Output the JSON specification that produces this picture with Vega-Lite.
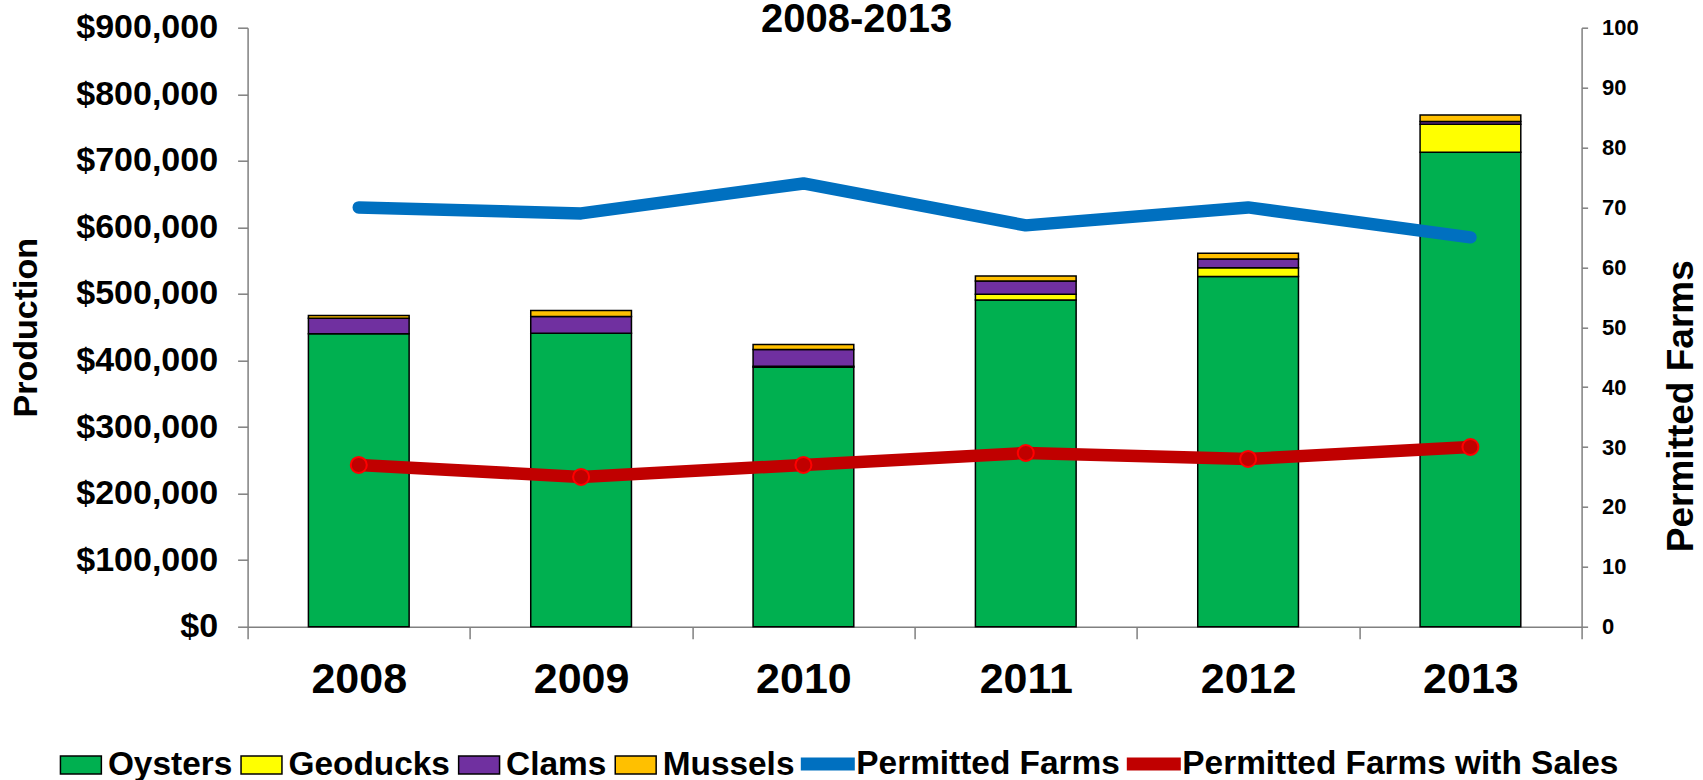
{
  "$schema": "https://vega.github.io/schema/vega-lite/v6.json",
  "autosize": {"type": "none"},
  "width": 1334,
  "height": 599,
  "padding": {"left": 247.6, "top": 27.7, "right": 121.4, "bottom": 153.3},
  "background": "white",
  "config": {
    "font": "Liberation Sans",
    "view": {"stroke": null},
    "axis": {"grid": false, "labelColor": "#000000", "titleColor": "#000000", "labelFont": "Liberation Sans", "titleFont": "Liberation Sans", "labelFontWeight": "bold", "titleFontWeight": "bold", "domainColor": "#808080", "tickColor": "#808080", "domainWidth": 1.5, "tickWidth": 1.5},
    "legend": {"labelFont": "Liberation Sans", "labelFontWeight": "bold", "labelFontSize": 33.4, "labelColor": "#000000", "labelLimit": 1000, "padding": 0, "title": null}
  },
  "title": {"text": "2008-2013", "anchor": "middle", "frame": "group", "baseline": "top", "offset": -29, "dx": -58, "fontSize": 40, "fontWeight": "bold", "font": "Liberation Sans", "color": "#000000"},
  "datasets": {
    "production": [
      {"year": "2008", "species": "Oysters", "ord": 1, "value": 440000},
      {"year": "2008", "species": "Clams", "ord": 3, "value": 23500},
      {"year": "2008", "species": "Mussels", "ord": 4, "value": 4000},
      {"year": "2009", "species": "Oysters", "ord": 1, "value": 441000},
      {"year": "2009", "species": "Clams", "ord": 3, "value": 25000},
      {"year": "2009", "species": "Mussels", "ord": 4, "value": 9000},
      {"year": "2010", "species": "Oysters", "ord": 1, "value": 390000},
      {"year": "2010", "species": "Geoducks", "ord": 2, "value": 1500},
      {"year": "2010", "species": "Clams", "ord": 3, "value": 25000},
      {"year": "2010", "species": "Mussels", "ord": 4, "value": 7500},
      {"year": "2011", "species": "Oysters", "ord": 1, "value": 491000},
      {"year": "2011", "species": "Geoducks", "ord": 2, "value": 8500},
      {"year": "2011", "species": "Clams", "ord": 3, "value": 20000},
      {"year": "2011", "species": "Mussels", "ord": 4, "value": 7500},
      {"year": "2012", "species": "Oysters", "ord": 1, "value": 526000},
      {"year": "2012", "species": "Geoducks", "ord": 2, "value": 13500},
      {"year": "2012", "species": "Clams", "ord": 3, "value": 13000},
      {"year": "2012", "species": "Mussels", "ord": 4, "value": 8500},
      {"year": "2013", "species": "Oysters", "ord": 1, "value": 713000},
      {"year": "2013", "species": "Geoducks", "ord": 2, "value": 42000},
      {"year": "2013", "species": "Clams", "ord": 3, "value": 4000},
      {"year": "2013", "species": "Mussels", "ord": 4, "value": 10000}
    ],
    "farms": [
      {"year": "2008", "series": "Permitted Farms", "farms": 70},
      {"year": "2009", "series": "Permitted Farms", "farms": 69},
      {"year": "2010", "series": "Permitted Farms", "farms": 74},
      {"year": "2011", "series": "Permitted Farms", "farms": 67},
      {"year": "2012", "series": "Permitted Farms", "farms": 70},
      {"year": "2013", "series": "Permitted Farms", "farms": 65},
      {"year": "2008", "series": "Permitted Farms with Sales", "farms": 27},
      {"year": "2009", "series": "Permitted Farms with Sales", "farms": 25},
      {"year": "2010", "series": "Permitted Farms with Sales", "farms": 27},
      {"year": "2011", "series": "Permitted Farms with Sales", "farms": 29},
      {"year": "2012", "series": "Permitted Farms with Sales", "farms": 28},
      {"year": "2013", "series": "Permitted Farms with Sales", "farms": 30}
    ]
  },
  "layer": [
    {
      "data": {"name": "production"},
      "mark": {"type": "bar", "stroke": "#000000", "strokeWidth": 1.5, "width": {"band": 0.453}},
      "encoding": {
        "x": {"field": "year", "type": "nominal", "scale": {"paddingInner": 0, "paddingOuter": 0},
          "axis": {"title": null, "labelAngle": 0, "labelFontSize": 43, "labelPadding": 20, "tickSize": 12, "tickBand": "extent"}},
        "y": {"field": "value", "type": "quantitative", "stack": "zero", "scale": {"domain": [0, 900000], "nice": false},
          "axis": {"orient": "left", "title": "Production", "titleFontSize": 34, "titlePadding": 32, "format": "$,.0f", "labelFontSize": 34, "labelPadding": 20, "tickSize": 10, "values": [0, 100000, 200000, 300000, 400000, 500000, 600000, 700000, 800000, 900000]}},
        "fill": {"field": "species", "type": "nominal",
          "scale": {"domain": ["Oysters", "Geoducks", "Clams", "Mussels"], "range": ["#00B050", "#FFFF00", "#7030A0", "#FFC000"]},
          "legend": {"orient": "none", "legendX": -189.7, "legendY": 714, "direction": "horizontal", "columns": 4,
            "labelOffset": 4, "columnPadding": 4.6, "symbolSize": 1936, "symbolType": "M-0.93,-0.41L0.93,-0.41L0.93,0.41L-0.93,0.41Z", "symbolStrokeColor": "#000000", "symbolStrokeWidth": 1.5, "symbolOpacity": 1}},
        "order": {"field": "ord", "type": "quantitative"}
      }
    },
    {
      "data": {"name": "farms"},
      "encoding": {
        "x": {"field": "year", "type": "nominal"},
        "y": {"field": "farms", "type": "quantitative", "scale": {"domain": [0, 100], "nice": false},
          "axis": {"orient": "right", "title": "Permitted Farms", "titleFontSize": 37, "titleAngle": 270, "titleBaseline": "alphabetic", "titleAlign": "center", "titleX": 111, "titleY": 378,
            "labelFontSize": 22, "labelPadding": 14, "tickSize": 6, "values": [0, 10, 20, 30, 40, 50, 60, 70, 80, 90, 100]}}
      },
      "layer": [
        {
          "mark": {"type": "line", "strokeWidth": 12.5, "strokeCap": "round", "strokeJoin": "round"},
          "encoding": {"stroke": {"field": "series", "type": "nominal",
            "scale": {"domain": ["Permitted Farms", "Permitted Farms with Sales"], "range": ["#0070C0", "#C00000"]},
            "legend": {"orient": "none", "legendX": 546.7, "legendY": 702.6, "direction": "horizontal", "columns": 2,
              "labelOffset": -5, "columnPadding": -23, "symbolSize": 2916, "symbolType": "stroke", "symbolStrokeWidth": 13, "symbolOpacity": 1}}}
        },
        {
          "transform": [{"filter": "datum.series == 'Permitted Farms with Sales'"}],
          "mark": {"type": "point", "shape": "circle", "filled": true, "fill": "#C00000", "stroke": "#FF0000", "strokeWidth": 2, "size": 256, "opacity": 1},
          "encoding": {}
        }
      ]
    }
  ],
  "resolve": {"scale": {"y": "independent"}}
}
